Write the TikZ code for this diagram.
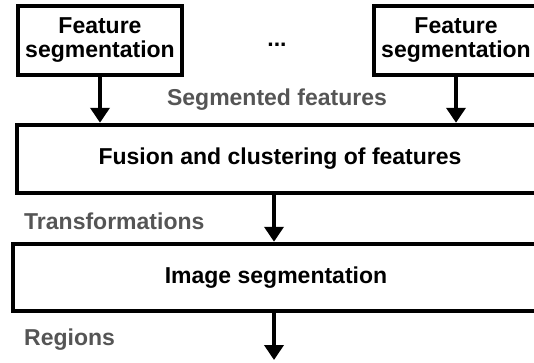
\documentclass[tikz,border=0pt]{standalone}
\usepackage{fontspec}
\setmainfont{Liberation Sans}
\usetikzlibrary{arrows.meta}
\definecolor{labelgray}{HTML}{555555}

\begin{document}
\begin{tikzpicture}[x=1pt,y=-1pt,
    box/.style={draw, line width=4.5pt, rectangle, inner sep=0pt,
        font=\fontsize{23}{24}\selectfont\bfseries, align=center},
    flow/.style={line width=4pt, -{Triangle[width=19pt,length=15pt]}},
    note/.style={text=labelgray, font=\fontsize{23}{24}\selectfont\bfseries, inner sep=0pt}]

    \useasboundingbox (0,0) rectangle (534,362);
    \clip (0,0) rectangle (534,362);

    % feature segmentation boxes
    \node[box, minimum width=164pt, minimum height=69pt] (segA) at (100,40.5) {Feature\\segmentation};
    \node[box, minimum width=164pt, minimum height=69pt] (segB) at (456,40.5) {Feature\\segmentation};
    \node[font=\fontsize{23}{24}\selectfont\bfseries, inner sep=0pt] (dots) at (277,45) {...};

    % fusion and segmentation stages
    \node[box, minimum width=526pt, minimum height=68pt] (fusion) at (280,159) {Fusion and clustering of features};
    \node[box, minimum width=526pt, minimum height=67pt] (imgseg) at (276,277.5) {Image segmentation};
    \coordinate (out) at (274,360);

    \draw[flow] (segA) -- (segA |- fusion.north);
    \draw[flow] (segB) -- (segB |- fusion.north);
    \draw[flow] (fusion.south -| out) -- (imgseg.north -| out);
    \draw[flow] (imgseg.south -| out) -- (out);

    % labels on the connectors
    \node[note] (segmented) at (277,100) {Segmented features};
    \node[note, anchor=west] (trans) at (24,221) {Transformations};
    \node[note, anchor=west] (regions) at (24,340) {Regions};

\end{tikzpicture}
\end{document}
